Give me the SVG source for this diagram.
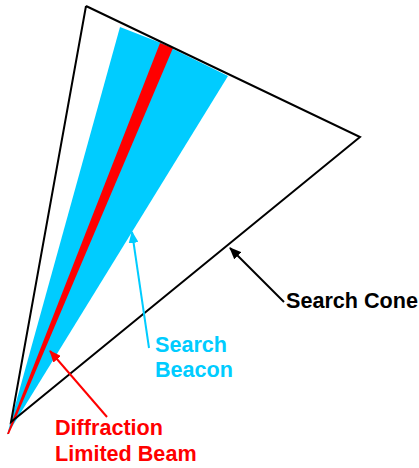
<svg xmlns="http://www.w3.org/2000/svg" width="419" height="468" viewBox="0 0 419 468">
<style>
text{font-family:"Liberation Sans",Arial,sans-serif;font-weight:bold;font-size:21.6px}
.cone{fill:none;stroke:#000;stroke-width:2;stroke-linejoin:miter}
</style>
<defs>
<marker id="ak" markerWidth="12" markerHeight="10" refX="11" refY="5" orient="auto" markerUnits="userSpaceOnUse"><path d="M0,0 L12,5 L0,10 Z" fill="#000"/></marker>
<marker id="ac" markerWidth="12" markerHeight="10" refX="11" refY="5" orient="auto" markerUnits="userSpaceOnUse"><path d="M0,0 L12,5 L0,10 Z" fill="#00CCFF"/></marker>
<marker id="ar" markerWidth="12" markerHeight="10" refX="11" refY="5" orient="auto" markerUnits="userSpaceOnUse"><path d="M0,0 L12,5 L0,10 Z" fill="#FF0000"/></marker>
</defs>
<g id="beacon"><polygon points="7,435 120,27 161,43 228,76" fill="#00CCFF"/></g>
<g id="beam"><polygon points="7,434 160,43 173,48 9,434" fill="#FF0000"/></g>
<g id="cone"><polyline class="cone" points="86,6 11,422 360,137 86,6 "/></g>
<g id="connectors">
<line x1="284" y1="302" x2="230" y2="248" stroke="#000" stroke-width="2" marker-end="url(#ak)"/>
<line x1="149" y1="348" x2="132" y2="232" stroke="#00CCFF" stroke-width="2" marker-end="url(#ac)"/>
<line x1="107" y1="417" x2="50" y2="351" stroke="#FF0000" stroke-width="2" marker-end="url(#ar)"/>
</g>
<g id="label-cone"><text x="286" y="308" fill="#000">Search Cone</text></g>
<g id="label-beacon"><text x="155" y="352" fill="#00CCFF">Search</text><text x="155" y="377" fill="#00CCFF">Beacon</text></g>
<g id="label-beam"><text x="55" y="435" fill="#FF0000">Diffraction</text><text x="55" y="461" fill="#FF0000">Limited Beam</text></g>
</svg>
